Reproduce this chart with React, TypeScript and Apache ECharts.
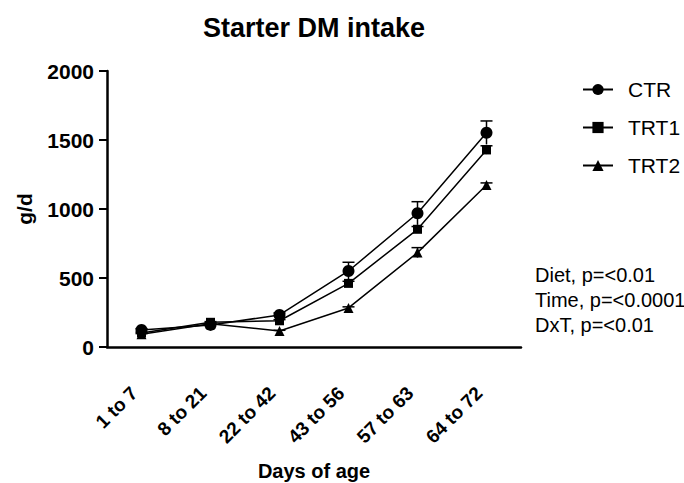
import React, { useEffect, useRef } from "react";
import * as echarts from "echarts";

const categories = ["1 to 7", "8 to 21", "22 to 42", "43 to 56", "57 to 63", "64 to 72"];
const ctr = [123, 160, 232, 551, 969, 1553];
const trt1 = [102, 179, 190, 461, 853, 1428];
const trt2 = [92, 168, 116, 283, 684, 1174];
const ctrErr = [10, 10, 15, 63, 84, 85];
const trt1Err = [5, 5, 8, 15, 20, 30];
const trt2Err = [5, 5, 5, 8, 36, 15];
const yTicks = [0, 500, 1000, 1500, 2000];
const stats = ["Diet, p=<0.01", "Time, p=<0.0001", "DxT, p=<0.01"];

const FONT = "Liberation Sans, Arial, sans-serif";

function errSeries(name: string, vals: number[], errs: number[]) {
  return {
    type: "custom",
    name: name + "_err",
    silent: true,
    z: 1,
    data: vals.map((v, i) => [i, v - errs[i], v + errs[i]]),
    renderItem: (params: any, api: any) => {
      const i = api.value(0);
      const lo = api.coord([i, api.value(1)]);
      const hi = api.coord([i, api.value(2)]);
      return {
        type: "group",
        children: [
          { type: "line", shape: { x1: lo[0], y1: lo[1], x2: hi[0], y2: hi[1] }, style: { stroke: "#000", lineWidth: 1.5 } },
          { type: "line", shape: { x1: hi[0] - 6, y1: hi[1], x2: hi[0] + 6, y2: hi[1] }, style: { stroke: "#000", lineWidth: 1.5 } },
        ],
      };
    },
  };
}

function lineSeries(name: string, vals: number[], symbol: string, size: number) {
  return {
    type: "line",
    name,
    data: vals,
    symbol,
    symbolSize: size,
    z: 3,
    lineStyle: { color: "#000", width: 1.5 },
    itemStyle: { color: "#000" },
  };
}

export default function App() {
  const ref = useRef<HTMLDivElement>(null);
  useEffect(() => {
    const chart = echarts.init(ref.current!, null, { renderer: "svg" });
    chart.setOption({
      animation: false,
      backgroundColor: "#fff",
      textStyle: { fontFamily: FONT },
      title: {
        text: "Starter DM intake",
        left: 314,
        textAlign: "center",
        top: 14,
        padding: 0,
        textStyle: { fontFamily: FONT, fontWeight: "bold", fontSize: 27, color: "#000" },
      },
      legend: {
        orient: "vertical",
        left: 577,
        top: 73,
        itemWidth: 30,
        itemHeight: 14,
        itemGap: 15,
        data: ["CTR", "TRT1", "TRT2"],
        textStyle: { fontFamily: FONT, fontSize: 21, lineHeight: 23, color: "#000", padding: [0, 0, 0, 10] },
      },
      graphic: stats.map((s, i) => ({
        type: "text",
        x: 535,
        y: 275 + i * 25,
        style: { text: s, fontFamily: FONT, fontSize: 20, fill: "#000", verticalAlign: "middle" },
      })),
      grid: { left: 107, right: 163, top: 71, bottom: 136, outerBoundsMode: "none", containLabel: false },
      xAxis: {
        type: "category",
        data: categories,
        boundaryGap: true,
        name: "Days of age",
        nameLocation: "middle",
        nameGap: 114,
        nameTextStyle: { fontFamily: FONT, fontWeight: "bold", fontSize: 20, color: "#000" },
        axisLine: { lineStyle: { color: "#000", width: 2.5 } },
        axisTick: { alignWithLabel: true, length: 8, lineStyle: { color: "#000", width: 2 } },
        axisLabel: { rotate: 45, margin: 22, padding: [0, 20, 0, 0], verticalAlign: "top", align: "right", fontFamily: FONT, fontWeight: "bold", fontSize: 19, color: "#000" },
      },
      yAxis: {
        type: "value",
        min: yTicks[0],
        max: yTicks[yTicks.length - 1],
        interval: 500,
        name: "g/d",
        nameLocation: "middle",
        nameGap: 72,
        nameRotate: 90,
        nameTextStyle: { fontFamily: FONT, fontWeight: "bold", fontSize: 21, color: "#000" },
        axisLine: { show: true, lineStyle: { color: "#000", width: 2.5 } },
        axisTick: { show: true, length: 8, lineStyle: { color: "#000", width: 2 } },
        splitLine: { show: false },
        axisLabel: { margin: 13, fontFamily: FONT, fontWeight: "bold", fontSize: 21, color: "#000", formatter: (v: number) => String(v) },
      },
      series: [
        errSeries("CTR", ctr, ctrErr),
        errSeries("TRT1", trt1, trt1Err),
        errSeries("TRT2", trt2, trt2Err),
        lineSeries("CTR", ctr, "circle", 12),
        lineSeries("TRT1", trt1, "rect", 9),
        lineSeries("TRT2", trt2, "triangle", 10),
      ],
    });
    return () => chart.dispose();
  }, []);
  return <div ref={ref} style={{ width: 684, height: 483, position: "absolute", left: 0, top: 0 }} />;
}
